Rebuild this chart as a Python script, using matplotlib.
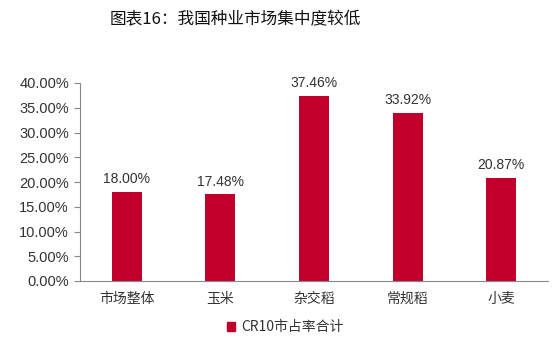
import matplotlib.pyplot as plt
from matplotlib.patches import Patch
from matplotlib.ticker import FuncFormatter

plt.rcParams['font.family'] = ['Noto Sans CJK SC', 'DejaVu Sans']

categories = ['市场整体', '玉米', '杂交稻', '常规稻', '小麦']
cr10 = [18.00, 17.48, 37.46, 33.92, 20.87]

bar_color = '#C0002A'
axis_color = '#888888'
text_color = '#333333'

fig = plt.figure(figsize=(5.54, 3.52), dpi=100)
ax = fig.add_axes([80 / 554, 1 - 281 / 352, 468 / 554, 198 / 352])

x = range(len(categories))
ax.bar(x, cr10, width=0.32, color=bar_color)
for xi, v in zip(x, cr10):
    ax.text(xi, v + 1.2, f'{v:.2f}%', ha='center', va='bottom',
            fontsize=10, color=text_color, family='Liberation Sans')

ax.set_xlim(-0.5, len(categories) - 0.5)
ax.set_ylim(0, 40)
ax.set_yticks([i * 5 for i in range(9)])
ax.yaxis.set_major_formatter(FuncFormatter(lambda v, p: f'{v:.2f}%'))
ax.set_xticks(list(x))
ax.set_xticklabels(categories, fontsize=10, color=text_color)
for lbl in ax.get_yticklabels():
    lbl.set_family('Liberation Sans')
    lbl.set_fontsize(10.5)
    lbl.set_color(text_color)

for s in ['top', 'right']:
    ax.spines[s].set_visible(False)
for s in ['left', 'bottom']:
    ax.spines[s].set_color(axis_color)
ax.tick_params(axis='y', length=4, color=axis_color, pad=4)
ax.tick_params(axis='x', length=0, pad=8)

fig.text(110 / 554, 1 - 20 / 352, '图表16：我国种业市场集中度较低',
         fontsize=12, ha='left', va='center', color='#111111')

ax.legend(handles=[Patch(color=bar_color, label='CR10市占率合计')],
          loc='center', bbox_to_anchor=(285 / 554, 1 - 327 / 352),
          bbox_transform=fig.transFigure, frameon=False, fontsize=10,
          handlelength=0.6, handleheight=0.6, handletextpad=0.4,
          labelcolor=text_color)

fig.savefig('out.png', dpi=100)
